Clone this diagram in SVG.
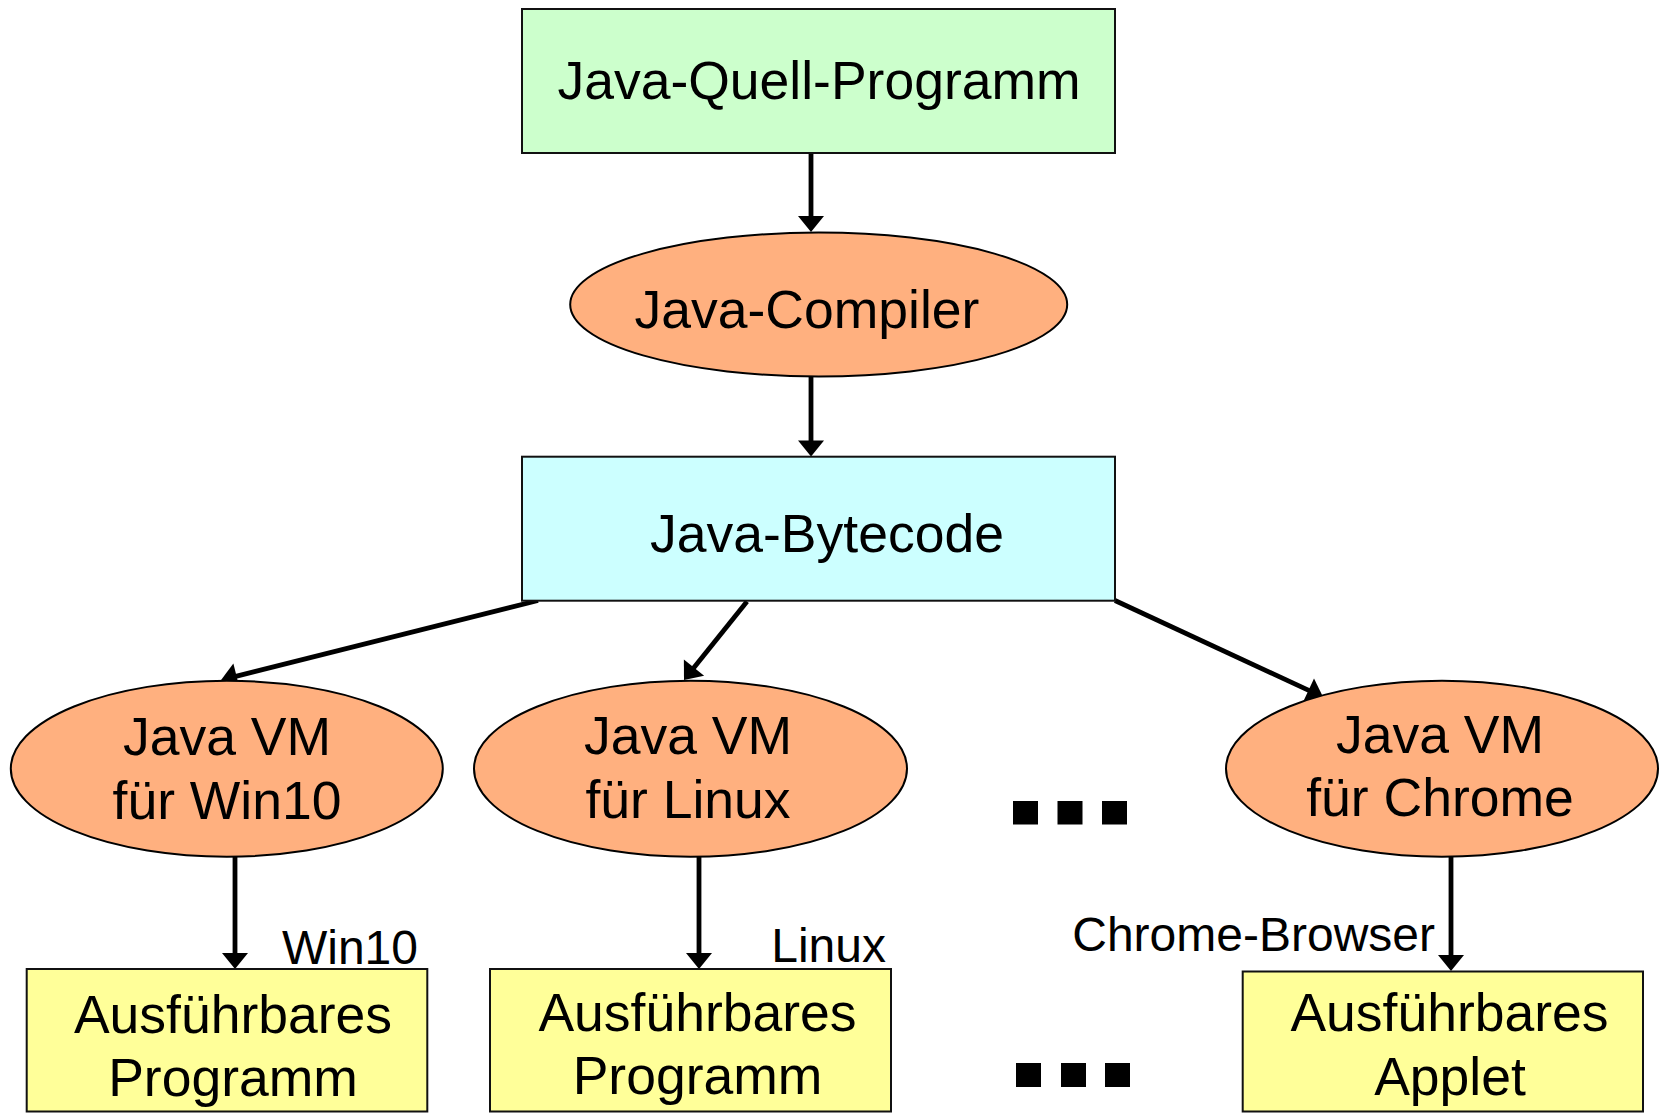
<svg xmlns="http://www.w3.org/2000/svg" width="1661" height="1113" viewBox="0 0 1661 1113">
  <defs>
    <style>
      .t { font-family: "Liberation Sans", Arial, sans-serif; fill: #000; text-anchor: middle; font-size: 53.5px; }
      .lbl { font-family: "Liberation Sans", Arial, sans-serif; fill: #000; text-anchor: end; font-size: 48px; }
      .box { stroke: #111; stroke-width: 2; }
      .ell { fill: #FFB07F; stroke: #000; stroke-width: 2; }
      .src { fill: #CCFFCC; }
      .byte { fill: #CCFFFF; }
      .exe { fill: #FFFF99; }
      .conn { stroke: #000; stroke-width: 4.8; fill: none; marker-end: url(#arrow); }
      .dot { fill: #000; }
    </style>
    <marker id="arrow" markerUnits="userSpaceOnUse" markerWidth="16" markerHeight="26" refX="8" refY="13" orient="auto" overflow="visible">
      <path d="M0,0 L16,13 L0,26 Z" fill="#000"/>
    </marker>
  </defs>
  <rect width="1661" height="1113" fill="#fff"/>

  <g id="connectors">
    <line class="conn" x1="811" y1="153" x2="811" y2="224"/>
    <line class="conn" x1="811" y1="377" x2="811" y2="448.5"/>
    <line class="conn" x1="538" y1="600.5" x2="228.8" y2="678.1"/>
    <line class="conn" x1="747" y1="601.5" x2="689" y2="673.8"/>
    <line class="conn" x1="1115" y1="600.5" x2="1315.8" y2="693.6"/>
    <line class="conn" x1="235" y1="856" x2="235" y2="961"/>
    <line class="conn" x1="699" y1="856" x2="699" y2="961"/>
    <line class="conn" x1="1451" y1="856" x2="1451" y2="963"/>
  </g>

  <g id="quell">
    <rect class="box src" x="522" y="9" width="593" height="144"/>
    <text class="t" x="819" y="99">Java-Quell-Programm</text>
  </g>

  <g id="compiler">
    <ellipse class="ell" cx="818.7" cy="304.5" rx="248.5" ry="72"/>
    <text class="t" x="807" y="328">Java-Compiler</text>
  </g>

  <g id="bytecode">
    <rect class="box byte" x="522" y="456.7" width="593" height="144"/>
    <text class="t" x="827" y="551.7">Java-Bytecode</text>
  </g>

  <g id="vm-win10">
    <ellipse class="ell" cx="226.8" cy="768.7" rx="216" ry="88"/>
    <text class="t" x="227" y="755">Java VM</text>
    <text class="t" x="227" y="819">für Win10</text>
  </g>

  <g id="vm-linux">
    <ellipse class="ell" cx="690.5" cy="768.7" rx="216.5" ry="88"/>
    <text class="t" x="688" y="754">Java VM</text>
    <text class="t" x="688" y="818">für Linux</text>
  </g>

  <g id="vm-chrome">
    <ellipse class="ell" cx="1442" cy="768.7" rx="216" ry="88"/>
    <text class="t" x="1440" y="753">Java VM</text>
    <text class="t" x="1440" y="816">für Chrome</text>
  </g>

  <g id="exe-win10">
    <rect class="box exe" x="26.7" y="969" width="400.6" height="142.5"/>
    <text class="t" x="233" y="1033">Ausführbares</text>
    <text class="t" x="233" y="1096">Programm</text>
  </g>

  <g id="exe-linux">
    <rect class="box exe" x="490" y="969" width="401" height="142.5"/>
    <text class="t" x="697.5" y="1031">Ausführbares</text>
    <text class="t" x="697.5" y="1094">Programm</text>
  </g>

  <g id="exe-chrome">
    <rect class="box exe" x="1242.7" y="971.5" width="400.3" height="140"/>
    <text class="t" x="1449.5" y="1031">Ausführbares</text>
    <text class="t" x="1450" y="1095">Applet</text>
  </g>

  <g id="labels">
    <text class="lbl" x="418" y="964">Win10</text>
    <text class="lbl" x="886" y="962">Linux</text>
    <text class="lbl" x="1435" y="951">Chrome-Browser</text>
  </g>

  <g id="ellipsis-vm">
    <rect class="dot" x="1013" y="801" width="25" height="23.5"/>
    <rect class="dot" x="1057.5" y="801" width="25" height="23.5"/>
    <rect class="dot" x="1102" y="801" width="25" height="23.5"/>
  </g>
  <g id="ellipsis-exe">
    <rect class="dot" x="1016" y="1063" width="25" height="24"/>
    <rect class="dot" x="1061" y="1063" width="25" height="24"/>
    <rect class="dot" x="1105" y="1063" width="25" height="24"/>
  </g>
</svg>
